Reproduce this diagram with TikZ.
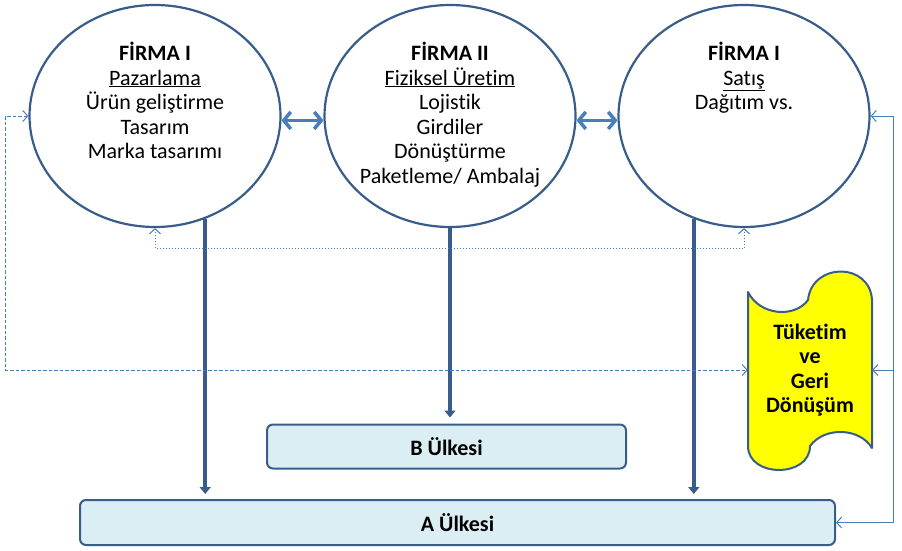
\documentclass[tikz,border=0pt]{standalone}
\usepackage{fontspec}
\setmainfont{Carlito}[Ligatures={NoCommon}]
\usetikzlibrary{shapes.geometric,arrows.meta}
\definecolor{koyu}{HTML}{385D8A}
\definecolor{acik}{HTML}{4A7EBB}
\definecolor{kutu}{HTML}{DBEEF4}
\definecolor{sari}{HTML}{FFFF00}
\begin{document}
\begin{tikzpicture}[x=1pt,y=-1pt,line join=round,font=\fontsize{22}{24.5}\selectfont,
    firma/.style={ellipse,draw=koyu,line width=2.2pt,fill=white,minimum width=251pt,minimum height=222pt,inner sep=0pt},
    yazi/.style={align=center,anchor=north,inner sep=0pt},
    ulke/.style={draw=koyu,line width=2pt,fill=kutu,rounded corners=6pt,inner sep=0pt,font=\fontsize{22}{24.5}\selectfont\bfseries},
    kalin/.style={koyu,line width=4pt,-{Triangle[length=7pt,width=11pt]}},
    cift/.style={acik,line width=3.5pt,{Straight Barb[length=7pt,width=17pt]}-{Straight Barb[length=7pt,width=17pt]}},
    ince/.style={acik,line width=1pt,{Straight Barb[length=5pt,width=11pt]}-{Straight Barb[length=5pt,width=11pt]}}]
    \useasboundingbox (0,0) rectangle (902,550);
    % firmalar
    \node[firma] (f1) at (155,116) {};
    \node[firma] (f2) at (450,116) {};
    \node[firma] (f3) at (744,116) {};
    \node[yazi] (t1) at (155,42) {\textbf{FİRMA I}\\\underline{Pazarlama}\\Ürün geliştirme\\Tasarım\\Marka tasarımı};
    \node[yazi] (t2) at (450,42) {\textbf{FİRMA II}\\\underline{Fiziksel Üretim}\\Lojistik\\Girdiler\\Dönüştürme\\Paketleme/ Ambalaj};
    \node[yazi] (t3) at (744,42) {\textbf{FİRMA I}\\\underline{Satış}\\Dağıtım vs.};
    \draw[cift] (f1.-2) -- (f2.182);
    \draw[cift] (f2.-2) -- (f3.182);
    % ulkeler
    \node[ulke,minimum width=359pt,minimum height=44pt] (B) at (446.5,446.5) {B Ülkesi};
    \node[ulke,minimum width=755pt,minimum height=45pt] (A) at (457.5,522.5) {A Ülkesi};
    \draw[kalin,shorten >=5pt] (f1.-64) -- (f1.-64 |- A.north);
    \draw[kalin,shorten >=6pt] (f2.south) -- (f2.south |- B.north);
    \draw[kalin,shorten >=5pt] (f3.-116) -- (f3.-116 |- A.north);
    % tuketim
    \draw[koyu,line width=2pt,fill=sari] (748,292) .. controls (760,316) and (795,318) .. (808,300)
        .. controls (812,262) and (870,262) .. (872,300) -- (872,448)
        .. controls (860,428) and (825,426) .. (810,446)
        .. controls (810,478) and (748,478) .. (748,446) -- cycle;
    \node[align=center,inner sep=0pt,minimum width=124pt,font=\fontsize{22}{24.5}\selectfont\bfseries] (tk) at (810,370) {Tüketim\\ve\\Geri\\Dönüşüm};
    % geri donusler
    \coordinate (r) at (893,116);
    \draw[ince,dashed,dash pattern=on 3.5pt off 2pt] (f1.west) -- ++(-23,0) |- (tk.west);
    \draw[ince,dotted] (f1.south) -- ++(0,20.5) -| (f3.south);
    \draw[ince] (f3.east) -- (f3.east -| r) |- (A.east);
    \draw[ince,{Straight Barb[length=5pt,width=11pt]}-] (tk.east) -- (tk.east -| r);
\end{tikzpicture}
\end{document}
